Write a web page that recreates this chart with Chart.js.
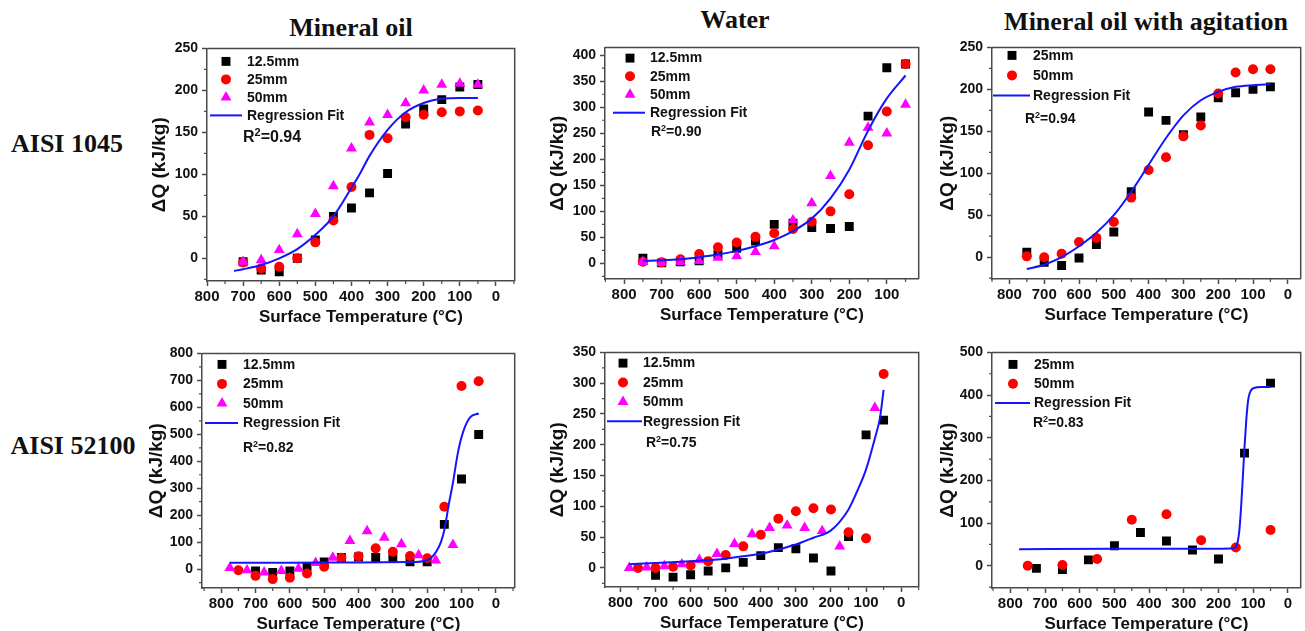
<!DOCTYPE html>
<html><head><meta charset="utf-8">
<script src="https://cdn.jsdelivr.net/npm/chart.js@4.4.1/dist/chart.umd.min.js"></script>
<style>
html,body{margin:0;padding:0;background:#fff}
body{width:1305px;height:631px;overflow:hidden;position:relative}
.hdr{position:absolute;font-family:'Liberation Serif','Times New Roman',serif;font-weight:bold;font-size:26px;line-height:26px;color:#111;white-space:nowrap;transform:translateX(-50%)}
.pane{position:absolute}
</style></head><body>
<div class="hdr" style="left:351px;top:15px">Mineral oil</div>
<div class="hdr" style="left:735px;top:7px">Water</div>
<div class="hdr" style="left:1146px;top:9px">Mineral oil with agitation</div>
<div class="hdr" style="left:67px;top:131px">AISI 1045</div>
<div class="hdr" style="left:73px;top:433px">AISI 52100</div>
<script>
// ---------- tick labels ----------
const xTicksFull = [800,700,600,500,400,300,200,100,0];
const xTicksTo100 = [800,700,600,500,400,300,200,100];
const yTicks250 = [0,50,100,150,200,250];
const yTicks400 = [0,50,100,150,200,250,300,350,400];
const yTicks800 = [0,100,200,300,400,500,600,700,800];
const yTicks350 = [0,50,100,150,200,250,300,350];
const yTicks500 = [0,100,200,300,400,500];

const labels3 = ['12.5mm','25mm','50mm'];
const labels2 = ['25mm','50mm'];
const fitLabel = 'Regression Fit';
const xTitle = 'Surface Temperature (°C)';
const yTitle = 'ΔQ (kJ/kg)';

// ---------- AISI 1045 – Mineral oil ----------
const oil1045Temp = [700,650,600,550,500,450,400,350,300,250,200,150,100,50];
const oil1045_12 = [-4,-14,-16,0,22,50,60,78,101,160,178,189,204,207];
const oil1045_25 = [-5,-12,-10,0,19,45,85,147,143,168,171,174,175,176];
const oil1045_50 = [-4,-2,10,29,53,86,131,162,171,185,200,207,208,207];
const oil1045FitT = [725,700,650,600,550,500,450,400,375,350,300,250,200,150,100,50];
const oil1045FitQ = [-15,-13,-8,0,11,28,50,84,102,122,153,174,185,190,191,191];
const oil1045R2 = '0.94';

// ---------- AISI 1045 – Water ----------
const wat1045Temp = [750,700,650,600,550,500,450,400,350,300,250,200,150,100,50];
const wat1045_12 = [10,1,3,5,17,29,43,75,77,69,67,71,283,376,383];
const wat1045_25 = [3,2,8,18,31,40,51,58,66,80,100,133,227,292,383];
const wat1045_50 = [3,1,3,5,11,14,22,33,83,116,168,232,261,250,305];
const wat1045FitT = [750,700,650,600,550,500,450,400,350,300,250,200,150,100,50];
const wat1045FitQ = [5,6,8,12,17,24,33,45,62,86,125,180,255,317,361];
const wat1045R2 = '0.90';

// ---------- AISI 1045 – Mineral oil with agitation ----------
const agi1045Temp = [750,700,650,600,550,500,450,400,350,300,250,200,150,100,50];
const agi1045_25 = [6,-6,-10,-1,15,30,78,173,163,146,167,190,196,200,203];
const agi1045_50 = [1,0,4,18,23,42,71,104,119,144,157,195,220,224,224];
const agi1045FitT = [750,700,650,600,550,500,450,400,350,300,250,200,150,100,50];
const agi1045FitQ = [-14,-9,0,13,29,50,78,110,142,169,187,197,203,205,206];
const agi1045R2 = '0.94';

// ---------- AISI 52100 – Mineral oil ----------
const oil52100Temp12 = [700,650,600,550,500,450,400,350,300,250,200,150,100,50];
const oil52100_12 = [-7,-12,-7,9,27,43,45,43,40,27,27,166,334,499];
const oil52100Temp25 = [750,700,650,600,550,500,450,400,350,300,250,200,150,100,50];
const oil52100_25 = [-4,-25,-37,-32,-16,9,42,48,77,64,49,40,231,679,697];
const oil52100Temp50 = [775,725,675,625,575,525,475,425,375,325,275,225,175,125];
const oil52100_50 = [5,-4,-12,-6,2,23,43,105,141,117,93,52,33,90];
const oil52100FitT = [775,600,400,250,200,175,160,150,137,125,110,95,75,50];
const oil52100FitQ = [24,24,25,26,33,62,100,145,240,320,435,510,563,577];
const oil52100R2 = '0.82';

// ---------- AISI 52100 – Water ----------
const wat52100Temp12 = [700,650,600,550,500,450,400,350,300,250,200,150,100,50];
const wat52100_12 = [-12,-15,-11,-5,0,9,20,33,31,16,-5,51,216,240];
const wat52100Temp25 = [750,700,650,600,550,500,450,400,350,300,250,200,150,100,50];
const wat52100_25 = [0,0,2,4,11,21,35,54,80,92,97,95,58,48,315];
const wat52100Temp50 = [775,725,675,625,575,525,475,425,375,325,275,225,175,75];
const wat52100_50 = [0,1,3,6,13,23,39,55,65,69,65,60,35,260];
const wat52100FitT = [775,700,600,500,450,400,350,300,250,200,150,125,100,75,60,50];
const wat52100FitQ = [6,8,11,15,19,23,30,38,49,61,95,125,160,210,245,289];
const wat52100R2 = '0.75';

// ---------- AISI 52100 – Mineral oil with agitation ----------
const agi52100Temp25 = [725,650,575,500,425,350,275,200,125,50];
const agi52100_25 = [-6,-9,14,47,78,58,37,16,264,428];
const agi52100Temp50 = [750,650,550,450,350,250,150,50];
const agi52100_50 = [0,2,16,108,121,60,43,84];
const agi52100FitT = [775,500,200,160,150,145,140,135,130,125,120,115,110,100,75,50];
const agi52100FitQ = [39,40,40,41,45,55,82,135,205,278,340,385,405,416,419,419];
const agi52100R2 = '0.83';

// ---------- styling ----------
const FONT = "'Liberation Sans', Arial, Helvetica, sans-serif";
const AXIS = '#4a4a4a';
const INK = '#111';
const SQ = {pointStyle:'rect', pointRadius:6.3, backgroundColor:'#000', borderColor:'#000', borderWidth:0, order:3};
const CI = {pointStyle:'circle', pointRadius:5, backgroundColor:'#ff0000', borderColor:'#ff0000', borderWidth:0, order:2};
const TR = {pointStyle:'triangle', pointRadius:6.3, backgroundColor:'#ff00ff', borderColor:'#ff00ff', borderWidth:0, order:1};

const pts = (xs, ys) => xs.map((x, i) => ({x: x, y: ys[i]}));
const series = (label, sty, xs, ys) => Object.assign({label: label, data: pts(xs, ys), showLine: false, pointHoverRadius: 0}, sty);
const fit = (xs, ys) => ({label: fitLabel, isFit: true, data: pts(xs, ys), showLine: true, pointRadius: 0, pointHoverRadius: 0,
  borderColor: '#1414ff', backgroundColor: '#1414ff', borderWidth: 2, cubicInterpolationMode: 'monotone', fill: false, order: 0});

const panels = [
  {box:[207,48,518,281], x:[-52,800], y:[-27,250], xTicks:xTicksFull, yTicks:yTicks250, yTitleX:160,
   sets:[series(labels3[0],SQ,oil1045Temp,oil1045_12), series(labels3[1],CI,oil1045Temp,oil1045_25), series(labels3[2],TR,oil1045Temp,oil1045_50), fit(oil1045FitT,oil1045FitQ)],
   legend:{sx:19, tx:40, y0:13, dy:18, line:[3,35]}, r2:{text:oil1045R2, x:36, base:94, size:16, sup:11}},
  {box:[605,47,922,279], x:[15,851], y:[-30,415], xTicks:xTicksTo100, yTicks:yTicks400, yTitleX:558,
   sets:[series(labels3[0],SQ,wat1045Temp,wat1045_12), series(labels3[1],CI,wat1045Temp,wat1045_25), series(labels3[2],TR,wat1045Temp,wat1045_50), fit(wat1045FitT,wat1045FitQ)],
   legend:{sx:25, tx:45, y0:10.7, dy:18.2, line:[8,40]}, r2:{text:wat1045R2, x:46, base:89, size:14, sup:9}},
  {box:[992,47,1304,279], x:[-37,850], y:[-26,250], xTicks:xTicksFull, yTicks:yTicks250, yTitleX:948,
   sets:[series(labels2[0],SQ,agi1045Temp,agi1045_25), series(labels2[1],CI,agi1045Temp,agi1045_50), fit(agi1045FitT,agi1045FitQ)],
   legend:{sx:20, tx:41, y0:8, dy:20, line:[1,38]}, r2:{text:agi1045R2, x:33, base:76, size:14, sup:9}},
  {box:[202,353,518,588], x:[-55,856], y:[-70,800], xTicks:xTicksFull, yTicks:yTicks800, yTitleX:157,
   sets:[series(labels3[0],SQ,oil52100Temp12,oil52100_12), series(labels3[1],CI,oil52100Temp25,oil52100_25), series(labels3[2],TR,oil52100Temp50,oil52100_50), fit(oil52100FitT,oil52100FitQ)],
   legend:{sx:20, tx:41, y0:11, dy:19.5, line:[3,36]}, r2:{text:oil52100R2, x:41, base:99, size:14, sup:9}},
  {box:[605,352,922,587], x:[-50,844], y:[-31,350], xTicks:xTicksFull, yTicks:yTicks350, yTitleX:558,
   sets:[series(labels3[0],SQ,wat52100Temp12,wat52100_12), series(labels3[1],CI,wat52100Temp25,wat52100_25), series(labels3[2],TR,wat52100Temp50,wat52100_50), fit(wat52100FitT,wat52100FitQ)],
   legend:{sx:18, tx:38, y0:10.7, dy:19.4, line:[2,37]}, r2:{text:wat52100R2, x:41, base:95, size:14, sup:9}},
  {box:[992,352,1304,588], x:[-37,853], y:[-52,500], xTicks:xTicksFull, yTicks:yTicks500, yTitleX:948,
   sets:[series(labels2[0],SQ,agi52100Temp25,agi52100_25), series(labels2[1],CI,agi52100Temp50,agi52100_50), fit(agi52100FitT,agi52100FitQ)],
   legend:{sx:21, tx:42, y0:12, dy:19.3, line:[3,38]}, r2:{text:agi52100R2, x:41, base:75, size:14, sup:9}}
];

function marker(ctx, style, r, color, x, y) {
  ctx.fillStyle = color;
  ctx.beginPath();
  if (style === 'rect') { const s = r * Math.SQRT1_2; ctx.rect(x - s, y - s, 2 * s, 2 * s); }
  else if (style === 'circle') { ctx.arc(x, y, r, 0, Math.PI * 2); }
  else { const a = Math.PI / 2 * 3, d = Math.PI * 2 / 3;
    ctx.moveTo(x + Math.cos(a) * r, y + Math.sin(a) * r);
    ctx.lineTo(x + Math.cos(a + d) * r, y + Math.sin(a + d) * r);
    ctx.lineTo(x + Math.cos(a + 2 * d) * r, y + Math.sin(a + 2 * d) * r);
    ctx.closePath(); }
  ctx.fill();
}

const deco = {
  id: 'deco',
  afterDraw(chart, args, o) {
    const ctx = chart.ctx, a = chart.chartArea;
    ctx.save();
    ctx.strokeStyle = AXIS; ctx.lineWidth = 1.5;
    ctx.beginPath();
    ctx.moveTo(a.left, a.top); ctx.lineTo(a.right, a.top); ctx.lineTo(a.right, a.bottom);
    ctx.stroke();
    // minor ticks
    const minor = (scale, fn) => {
      const t = scale.ticks.map(k => k.value);
      const step = Math.abs(t[1] - t[0]);
      const lo = Math.min(scale.min, scale.max), hi = Math.max(scale.min, scale.max);
      const k = Math.ceil((lo - step / 2) / step);
      for (let v = k * step + step / 2; v <= hi + 1e-9; v += step) fn(scale.getPixelForValue(v));
    };
    ctx.lineWidth = 1.2;
    ctx.beginPath();
    minor(chart.scales.x, px => { ctx.moveTo(px, a.bottom); ctx.lineTo(px, a.bottom + 3); });
    minor(chart.scales.y, py => { ctx.moveTo(a.left, py); ctx.lineTo(a.left - 3, py); });
    ctx.stroke();
    // legend inside plot
    const L = o.legend;
    chart.data.datasets.forEach((ds, i) => {
      const y = a.top + L.y0 + i * L.dy;
      if (ds.isFit) {
        ctx.strokeStyle = ds.borderColor; ctx.lineWidth = 2;
        ctx.beginPath(); ctx.moveTo(a.left + L.line[0], y); ctx.lineTo(a.left + L.line[1], y); ctx.stroke();
      } else {
        marker(ctx, ds.pointStyle, ds.pointRadius, ds.backgroundColor, a.left + L.sx, y);
      }
      ctx.fillStyle = INK; ctx.font = 'bold 14px ' + FONT;
      ctx.textBaseline = 'middle'; ctx.textAlign = 'left';
      ctx.fillText(ds.label, a.left + L.tx, y + 0.5);
    });
    // R^2 annotation
    const r = o.r2;
    let x = a.left + r.x; const yb = a.top + r.base;
    ctx.textBaseline = 'alphabetic'; ctx.fillStyle = INK;
    ctx.font = 'bold ' + r.size + 'px ' + FONT;
    ctx.fillText('R', x, yb); x += ctx.measureText('R').width;
    ctx.font = 'bold ' + r.sup + 'px ' + FONT;
    ctx.fillText('2', x, yb - r.size * 0.42); x += ctx.measureText('2').width;
    ctx.font = 'bold ' + r.size + 'px ' + FONT;
    ctx.fillText('=' + r.text, x, yb);
    ctx.restore();
  }
};

const LW = 62, TP = 12, RP = 3, BH = 50, YT = 19;
panels.forEach(p => {
  const W = p.box[2] - p.box[0] + LW + RP, H = p.box[3] - p.box[1] + TP + BH;
  const div = document.createElement('div');
  div.className = 'pane';
  div.style.left = (p.box[0] - LW) + 'px'; div.style.top = (p.box[1] - TP) + 'px';
  div.style.width = W + 'px'; div.style.height = H + 'px';
  const cv = document.createElement('canvas');
  cv.width = W; cv.height = H; cv.style.width = W + 'px'; cv.style.height = H + 'px';
  div.appendChild(cv); document.body.appendChild(div);
  const yPad = p.yTitleX - (p.box[0] - LW) - YT * 1.2 / 2;
  new Chart(cv, {
    type: 'scatter',
    data: {datasets: p.sets},
    options: {
      responsive: false, animation: false, events: [],
      layout: {padding: {top: TP, right: RP, left: 0, bottom: 0}},
      plugins: {legend: {display: false}, tooltip: {enabled: false},
        deco: {legend: p.legend, r2: p.r2}},
      scales: {
        x: {type: 'linear', reverse: true, min: p.x[0], max: p.x[1],
          afterBuildTicks: s => { s.ticks = p.xTicks.map(v => ({value: v})); },
          afterFit: s => { s.height = BH; },
          grid: {drawOnChartArea: false, drawTicks: true, tickLength: 5, tickColor: AXIS, tickWidth: 1.5},
          border: {display: true, color: AXIS, width: 1.5},
          ticks: {color: INK, font: {family: FONT, size: 15, weight: 'bold'}, padding: 2, maxRotation: 0, autoSkip: false},
          title: {display: true, text: xTitle, color: INK, font: {family: FONT, size: 17, weight: 'bold'}, padding: {top: 0, bottom: 3}}},
        y: {type: 'linear', min: p.y[0], max: p.y[1],
          afterBuildTicks: s => { s.ticks = p.yTicks.map(v => ({value: v})); },
          afterFit: s => { s.width = LW; },
          grid: {drawOnChartArea: false, drawTicks: true, tickLength: 5, tickColor: AXIS, tickWidth: 1.5},
          border: {display: true, color: AXIS, width: 1.5},
          ticks: {color: INK, font: {family: FONT, size: 14, weight: 'bold'}, padding: 4, autoSkip: false},
          title: {display: true, text: yTitle, color: INK, font: {family: FONT, size: YT, weight: 'bold'}, padding: {top: yPad, bottom: 0}}}
      }
    },
    plugins: [deco]
  });
});
</script>
</body></html>
